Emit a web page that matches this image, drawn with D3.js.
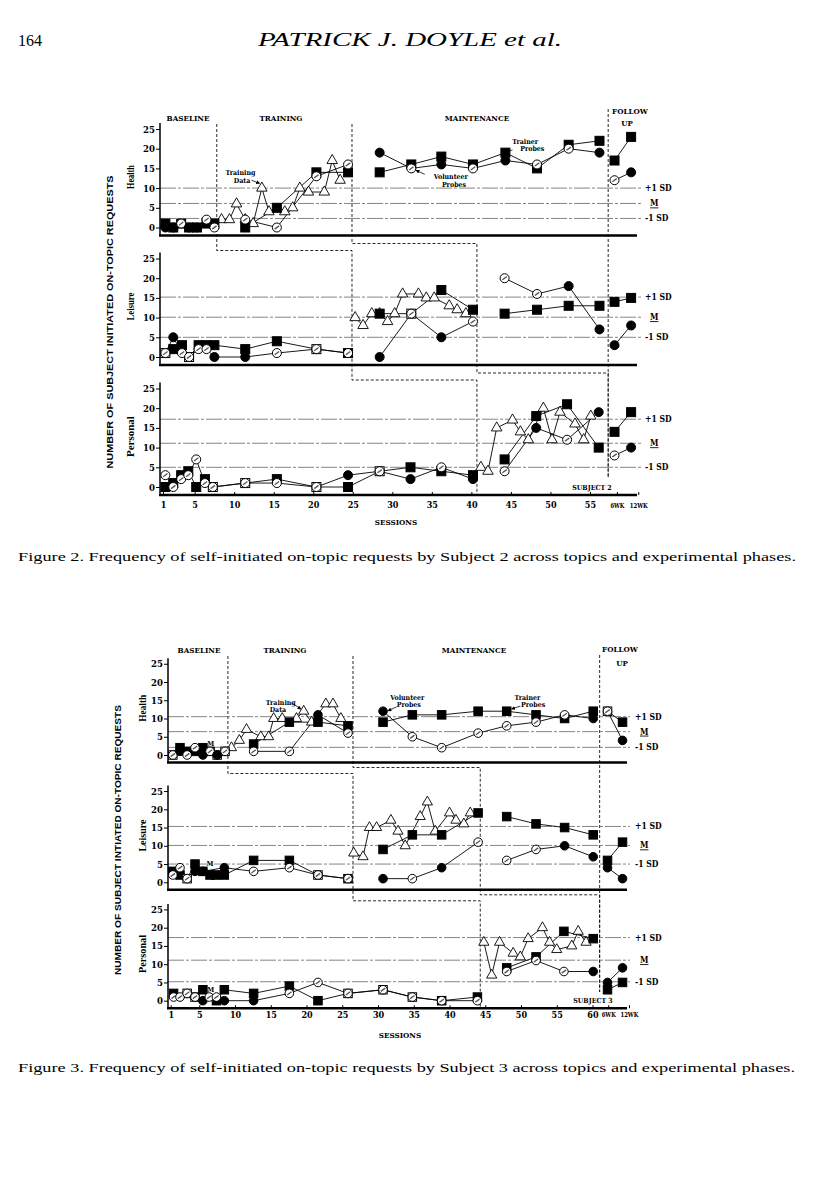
<!DOCTYPE html>
<html>
<head>
<meta charset="utf-8">
<script src="https://cdn.jsdelivr.net/npm/d3@7"></script>
<style>
body{margin:0;background:#fff;}
svg{display:block;}
</style>
</head>
<body>
<script>
// ---------- data ----------
var yTicks = [0,5,10,15,20,25];
var topics = ["Health","Leisure","Personal"];
var phaseNames = ["BASELINE","TRAINING","MAINTENANCE"];
var followNames = ["6WK","12WK"];
var sdNames = ["+1 SD","M","-1 SD"];
var sessionTicks2 = [1,5,10,15,20,25,30,35,40,45,50,55];
var sessionTicks3 = [1,5,10,15,20,25,30,35,40,45,50,55,60];

// phase changes (session units): baseline->training, training->maintenance, follow-up
var f2PhaseA = [7.8,24.9,40.7];
var f2PhaseB = [24.9,40.7,57.3];
var f2Follow = 57.3;
var f3PhaseA = [9.0,26.5,44.3];
var f3PhaseB = [26.5,44.3,61.0];
var f3Follow = 61.0;

// mean and +/-1 SD reference values [+1 SD, M, -1 SD]
var f2HealthSD = [10,6.1,2.3];
var f2LeisureSD = [15.2,10.1,5];
var f2PersonalSD = [17.2,11.1,5];
var f3HealthSD = [10.5,6.4,2.1];
var f3LeisureSD = [15.3,10.1,5];
var f3PersonalSD = [17.3,11.1,5.2];

// series: one array per phase segment, points [session, value, printed open symbol]
var f2HealthSquares = [
  [[1.3,1],[2.3,0],[3.3,1],[4.3,0],[5.3,0],[6.5,1],[7.5,1]],
  [[11.4,0],[15.4,5],[20.4,14],[24.4,14]],
  [[28.4,14],[32.4,16],[36.2,18],[40.2,16],[44.3,19],[48.3,15],[52.3,21],[56.2,22]],
  [["6WK",17],["12WK",23]]
];
var f2HealthCircles = [
  [[1.3,0],[2.3,0],[3.3,1,1],[4.3,0],[5.3,0],[6.5,2,1],[7.5,0,1]],
  [[11.4,2,1],[15.4,0,1],[20.4,13,1],[24.4,16,1]],
  [[28.4,19],[32.4,15,1],[36.2,16],[40.2,15,1],[44.3,17],[48.3,16,1],[52.3,20,1],[56.2,19]],
  [["6WK",12,1],["12WK",14]]
];
var f2HealthTriangles = [
  [[8.4,2],[9.4,2],[10.3,6],[11.4,2],[12.4,1],[13.5,10],[14.4,4],[16.4,4],[17.4,5],[18.3,10],[19.4,9],[21.4,9],[22.4,17],[23.4,12]]
];
var f2LeisureSquares = [
  [[1.3,1,1],[2.3,2],[3.4,3],[4.3,0,1],[5.5,3],[6.5,3],[7.5,3],[11.4,2],[15.4,4],[20.4,2,1],[24.4,1]],
  [[28.4,11],[32.4,11,1],[36.2,17],[40.2,12]],
  [[44.2,11],[48.3,12],[52.3,13],[56.2,13]],
  [["6WK",14],["12WK",15]]
];
var f2LeisureCircles = [
  [[1.3,1,1],[2.3,5],[3.4,1,1],[4.3,0,1],[5.5,2,1],[6.5,2,1],[7.5,0],[11.4,0],[15.4,1,1],[20.4,2,1],[24.4,1,1]],
  [[28.4,0],[32.4,11,1],[36.2,5],[40.2,9,1]],
  [[44.2,20,1],[48.3,16,1],[52.3,18],[56.2,7]],
  [["6WK",3],["12WK",8]]
];
var f2LeisureTriangles = [
  [[25.3,10],[26.3,8],[27.4,11],[28.4,11],[29.4,9],[30.3,11],[31.3,16],[33.3,16],[34.3,15],[35.3,15],[37.2,13],[38.2,12],[39.3,11]]
];
var f2PersonalSquares = [
  [[1.3,0],[2.3,1],[3.3,3],[4.2,4],[5.2,0],[6.3,2],[7.3,0,1],[11.4,1,1],[15.4,2],[20.4,0,1],[24.4,0],[28.4,4,1],[32.3,5],[36.2,4],[40.2,3]],
  [[44.2,7],[48.2,18],[52.1,21],[56.1,10]],
  [["6WK",14],["12WK",19]]
];
var f2PersonalCircles = [
  [[1.3,3,1],[2.3,0,1],[3.3,2,1],[4.2,3,1],[5.2,7,1],[6.3,1,1],[7.3,0,1],[11.4,1,1],[15.4,1,1],[20.4,0,1],[24.4,3],[28.4,4,1],[32.3,2],[36.2,5,1],[40.2,2]],
  [[44.2,4,1],[48.2,15],[52.1,12,1],[56.1,19]],
  [["6WK",8,1],["12WK",10]]
];
var f2PersonalTriangles = [
  [[41.2,5],[42.1,4],[43.2,15],[45.2,17],[46.2,14],[47.2,12],[49.1,20],[50.2,12],[51.2,19],[53.1,16],[54.2,12],[55.1,18]]
];

var f3HealthSquares = [
  [[1.3,0,1],[2.3,2],[3.3,1],[4.4,1],[5.5,2],[6.5,1],[7.5,0,1],[8.6,1,1]],
  [[12.6,3],[17.6,9],[21.6,9],[25.8,8]],
  [[30.7,9],[34.8,11],[38.9,11],[44.0,12],[48.0,12],[52.1,11],[56.1,10],[60.1,12]],
  [["6WK",12,1],["12WK",9]]
];
var f3HealthCircles = [
  [[1.3,0,1],[2.3,1],[3.3,0,1],[4.4,2,1],[5.5,0],[6.5,1,1],[7.5,0],[8.6,1,1]],
  [[12.6,1,1],[17.6,1,1],[21.6,11],[25.8,6,1]],
  [[30.7,12],[34.8,5,1],[38.9,2,1],[44.0,6,1],[48.0,8,1],[52.1,9,1],[56.1,11,1],[60.1,10]],
  [["6WK",12,1],["12WK",4]]
];
var f3HealthTriangles = [
  [[9.5,2],[10.6,4],[11.6,7],[13.6,5],[14.7,5],[15.4,10],[16.6,10],[18.6,10],[19.6,12],[20.7,9],[22.7,14],[23.7,14],[24.8,10]]
];
var f3LeisureSquares = [
  [[1.3,3],[2.3,2],[3.3,1,1],[4.4,5],[5.5,3],[6.5,2],[7.3,2],[8.5,2],[12.6,6],[17.6,6],[21.6,2,1],[25.8,1]],
  [[30.7,9],[34.8,13],[38.9,13],[44.0,19]],
  [[48.0,18],[52.1,16],[56.1,15],[60.1,13]],
  [["6WK",6],["12WK",11]]
];
var f3LeisureCircles = [
  [[1.3,2,1],[2.3,4,1],[3.3,1,1],[4.4,3],[5.5,3],[8.5,4],[12.6,3,1],[17.6,4,1],[21.6,2,1],[25.8,1,1]],
  [[30.7,1],[34.8,1,1],[38.9,4],[44.0,11,1]],
  [[48.0,6,1],[52.1,9,1],[56.1,10],[60.1,7]],
  [["6WK",4],["12WK",1]]
];
var f3LeisureTriangles = [
  [[26.6,8],[27.9,7],[28.8,15],[29.8,15],[31.8,17],[32.8,14],[33.8,10],[35.9,18],[36.9,22],[38.0,14],[40.0,19],[40.9,17],[42.0,16],[42.9,19]]
];
var f3PersonalSquares = [
  [[1.4,2],[3.3,2,1],[4.4,1,1],[5.5,3],[7.4,0],[8.5,3],[12.6,2],[17.6,4],[21.6,0],[25.8,2,1],[30.7,3,1],[34.8,1,1],[38.9,0],[43.9,1]],
  [[48.0,9],[52.1,12],[56.0,19],[60.1,17]],
  [["6WK",3],["12WK",5]]
];
var f3PersonalCircles = [
  [[1.4,1,1],[2.3,1,1],[3.3,2,1],[4.4,1,1],[5.5,0],[6.4,1,1],[7.4,1,1],[8.5,0],[12.6,0],[17.6,2,1],[21.6,5,1],[25.8,2,1],[30.7,3,1],[34.8,1,1],[38.9,0,1],[43.9,0,1]],
  [[48.0,8,1],[52.1,11,1],[56.0,8,1],[60.1,8]],
  [["6WK",5],["12WK",9]]
];
var f3PersonalTriangles = [
  [[44.8,16],[45.9,7],[47.0,16],[48.9,13],[49.9,12],[51.0,17],[53.0,20],[54.0,16],[55.0,14],[57.1,15],[58.0,19],[59.1,16]]
];

// ---------- drawing ----------
var svg = d3.select("body").append("svg")
.attr("width",816)
.attr("height",1195)
.style("font-family","'Liberation Serif',serif");

var chartFont = "'DejaVu Serif Condensed','DejaVu Serif',serif";

svg.append("text").attr("x",18).attr("y",46).attr("font-size",16).text("164");
svg.append("text").attr("x",258).attr("y",46).attr("font-size",19).attr("font-style","italic")
.attr("textLength",304).attr("lengthAdjust","spacingAndGlyphs").text("PATRICK J. DOYLE et al.");

function drawFigure(fig){
  var g = svg.append("g");
  var x = fig.x;
  var px = function(s){ return x(typeof s === "string" ? fig.followAt[s] : s); };
  var ys = fig.zero.map(function(z){
    return d3.scaleLinear().domain([0,25]).range([z, z - 25*fig.k]);
  });
  var bases = fig.zero.map(function(z){ return z + fig.base; });

  // phase titles
  fig.titles.forEach(function(t){
    g.append("text").attr("x",t[1]).attr("y",t[2]).attr("text-anchor","middle")
    .attr("font-family",chartFont).attr("font-weight","bold").attr("font-size",8).text(t[0]);
  });

  // phase change lines
  function stairs(xs,drop,top,bottom){
    var p = d3.path();
    p.moveTo(x(xs[0]),top);
    for(var i = 0;i < 3;i++){
      var yy = i < 2 ? bases[i] + drop : bottom;
      p.lineTo(x(xs[i]),yy);
      if(i < 2) p.lineTo(x(xs[i+1]),yy);
    }
    return p.toString();
  }
  var dash = {"fill":"none","stroke":"#111","stroke-width":0.9,"stroke-dasharray":"3,2"};
  [stairs(fig.phaseA,fig.dropA,fig.phaseTop,bases[2]),
   stairs(fig.phaseB,fig.dropB,fig.phaseTop,fig.followBottom),
   "M" + x(fig.follow) + "," + fig.followTop + "V" + fig.followBottom].forEach(function(d){
    var p = g.append("path").attr("d",d);
    for(var k in dash) p.attr(k,dash[k]);
  });

  fig.panels.forEach(function(p,i){
    var y = ys[i], base = bases[i];

    p.sd.forEach(function(v,j){
      g.append("line").attr("x1",fig.left).attr("x2",fig.sdEnd)
      .attr("y1",y(v)).attr("y2",y(v))
      .attr("stroke","#666").attr("stroke-width",0.8).attr("stroke-dasharray","16,2,3,2");
      var t = g.append("text").attr("x",fig.sdLabel).attr("y",y(v)+3)
      .attr("font-family",chartFont).attr("font-weight","bold").attr("font-size",8.5);
      if(j == 1) t.attr("x",fig.sdLabel + 5).attr("text-decoration","underline").text(sdNames[j]);
      else t.text(sdNames[j]);
    });

    g.append("line").attr("x1",fig.left).attr("x2",fig.left)
    .attr("y1",base).attr("y2",y(26.5)).attr("stroke","#000").attr("stroke-width",1.5);
    g.append("line").attr("x1",fig.left - 1).attr("x2",fig.right)
    .attr("y1",base).attr("y2",base).attr("stroke","#000").attr("stroke-width",2.5);

    g.append("g").attr("transform","translate(" + fig.left + ",0)")
    .call(d3.axisLeft(y).tickValues(yTicks).tickSize(4).tickPadding(1))
    .call(function(a){ a.select(".domain").remove(); })
    .attr("font-family",chartFont).attr("font-weight","bold").attr("font-size",9.5);

    g.append("text")
    .attr("transform","translate(" + fig.topicX + "," + y(12.8) + ") rotate(-90)")
    .attr("text-anchor","middle").attr("font-weight","bold").attr("font-size",10)
    .attr("textLength",fig.topicLen[i]).attr("lengthAdjust","spacingAndGlyphs")
    .text(topics[i]);

    var line = d3.line()
    .x(function(d){ return px(d[0]); })
    .y(function(d){ return y(d[1]); });

    [p.triangles,p.squares,p.circles].forEach(function(series){
      series.forEach(function(seg){
        g.append("path").attr("d",line(seg))
        .attr("fill","none").attr("stroke","#000").attr("stroke-width",0.9);
      });
    });

    var tri = d3.symbol(d3.symbolTriangle,fig.triSize);
    p.triangles.forEach(function(seg){
      g.selectAll(null).data(seg).enter().append("path")
      .attr("transform",function(d){ return "translate(" + px(d[0]) + "," + y(d[1]) + ")"; })
      .attr("d",tri).attr("fill","#fff").attr("stroke","#000").attr("stroke-width",0.9);
    });

    p.squares.forEach(function(seg){
      var s = g.selectAll(null).data(seg).enter().append("g")
      .attr("transform",function(d){ return "translate(" + px(d[0]) + "," + y(d[1]) + ")"; });
      s.append("rect").attr("x",-fig.sq/2).attr("y",-fig.sq/2)
      .attr("width",fig.sq).attr("height",fig.sq)
      .attr("fill",function(d){ return d[2] ? "#fff" : "#000"; })
      .attr("stroke","#000").attr("stroke-width",1);
      s.filter(function(d){ return d[2]; }).append("circle").attr("r",1.4).attr("fill","#555");
    });

    p.circles.forEach(function(seg){
      var c = g.selectAll(null).data(seg).enter().append("g")
      .attr("transform",function(d){ return "translate(" + px(d[0]) + "," + y(d[1]) + ")"; });
      c.append("circle").attr("r",fig.r)
      .attr("fill",function(d){ return d[2] ? "#fff" : "#000"; })
      .attr("stroke","#000").attr("stroke-width",1);
      c.filter(function(d){ return d[2]; }).append("path").attr("d","M-2.2,1.6L2.2,-1.6")
      .attr("stroke","#555").attr("stroke-width",1.3);
    });

    (p.notes || []).forEach(function(n){
      n.text.forEach(function(s,j){
        g.append("text").attr("x",px(n.at[j][0])).attr("y",y(n.at[j][1]) + 3)
        .attr("text-anchor","middle").attr("font-family",chartFont).attr("font-weight","bold")
        .attr("font-size",7).text(s);
      });
      if(n.arrow){
        g.append("line").attr("x1",px(n.arrow[0][0])).attr("y1",y(n.arrow[0][1]))
        .attr("x2",px(n.arrow[1][0])).attr("y2",y(n.arrow[1][1]))
        .attr("stroke","#000").attr("stroke-width",0.8).attr("marker-end","url(#arr)");
      }
    });
  });

  // session axis under the last panel
  var tickVals = fig.sessionTicks.concat(followNames.map(function(f){ return fig.followTick[f]; }));
  var xa = g.append("g").attr("transform","translate(0," + bases[2] + ")")
  .call(d3.axisBottom(x).tickValues(tickVals).tickSize(-3).tickPadding(fig.tickPad)
    .tickFormat(function(d){
      var f = followNames.filter(function(n){ return fig.followTick[n] === d; });
      return f.length ? f[0] : d;
    }))
  .call(function(a){ a.select(".domain").remove(); })
  .attr("font-family",chartFont).attr("font-weight","bold").attr("font-size",9);
  xa.selectAll(".tick text").filter(function(d){ return d > fig.sessionTicks[fig.sessionTicks.length-1]; })
  .attr("font-size",8)
  .attr("textLength",function(d){ return d === fig.followTick["6WK"] ? fig.followLen[0] : fig.followLen[1]; })
  .attr("lengthAdjust","spacingAndGlyphs");

  g.append("text").attr("x",fig.sessions[0]).attr("y",fig.sessions[1]).attr("text-anchor","middle")
  .attr("font-family",chartFont).attr("font-weight","bold").attr("font-size",8).text("SESSIONS");

  g.append("text").attr("x",fig.subject[0]).attr("y",fig.subject[1]).attr("text-anchor","middle")
  .attr("font-family",chartFont).attr("font-weight","bold").attr("font-size",7).text(fig.subjectText);

  g.append("text")
  .attr("transform","translate(" + fig.bigLabel[0] + "," + fig.bigLabel[1] + ") rotate(-90)")
  .attr("text-anchor","middle").attr("font-family","'Liberation Sans',sans-serif")
  .attr("font-weight","bold").attr("font-size",9)
  .attr("textLength",fig.bigLabel[2]).attr("lengthAdjust","spacingAndGlyphs")
  .text(fig.bigText);

  g.append("text").attr("x",18).attr("y",fig.captionY).attr("font-size",13.5)
  .attr("textLength",fig.captionLen).attr("lengthAdjust","spacingAndGlyphs")
  .text(fig.caption);
}

svg.append("defs").append("marker").attr("id","arr")
.attr("viewBox","0 0 6 6").attr("refX",5).attr("refY",3)
.attr("markerWidth",5).attr("markerHeight",5).attr("orient","auto")
.append("path").attr("d","M0,0L6,3L0,6Z").attr("fill","#000");

drawFigure({
  x: d3.scaleLinear().domain([1,55]).range([163,590]),
  zero: [227.5,357,487], k: 3.94, base: 8,
  left: 160, right: 637, sdEnd: 641, sdLabel: 645,
  followAt: {"6WK":58.1,"12WK":60.2},
  followTick: {"6WK":58.4,"12WK":61.1},
  followLen: [14,18],
  sessionTicks: sessionTicks2, tickPad: 7,
  phaseA: f2PhaseA, phaseB: f2PhaseB, follow: f2Follow,
  dropA: 15, dropB: 8, phaseTop: 124, followTop: 109, followBottom: 478,
  titles: [[phaseNames[0],188,121],[phaseNames[1],281,121],[phaseNames[2],477,121],["FOLLOW",630,114],["UP",627,126]],
  topicX: 134, topicLen: [24,28,41],
  sq: 9, r: 4.5, triSize: 48,
  sessions: [396,525], subject: [592,490], subjectText: "SUBJECT 2",
  bigLabel: [113,322,293], bigText: "NUMBER OF SUBJECT INITIATED ON-TOPIC REQUESTS",
  captionY: 561, captionLen: 778,
  caption: "Figure 2.   Frequency of self-initiated on-topic requests by Subject 2 across topics and experimental phases.",
  panels: [
    {sd: f2HealthSD, squares: f2HealthSquares, circles: f2HealthCircles, triangles: f2HealthTriangles,
     notes: [
       {text:["Training","Data"], at:[[10.8,14.2],[11.0,12.1]], arrow:[[12.2,12.0],[13.2,11.2]]},
       {text:["Trainer","Probes"], at:[[46.8,22],[47.7,20.1]], arrow:[[45.2,19.7],[44.3,19.0]]},
       {text:["Volunteer","Probes"], at:[[37.4,13.1],[37.8,11.0]], arrow:[[34.1,13.5],[33.0,14.5]]}
     ]},
    {sd: f2LeisureSD, squares: f2LeisureSquares, circles: f2LeisureCircles, triangles: f2LeisureTriangles},
    {sd: f2PersonalSD, squares: f2PersonalSquares, circles: f2PersonalCircles, triangles: f2PersonalTriangles}
  ]
});

drawFigure({
  x: d3.scaleLinear().domain([1,60]).range([170.7,592.5]),
  zero: [755,882.3,1000.7], k: 3.65, base: 7.5,
  left: 168, right: 627, sdEnd: 630, sdLabel: 635,
  followAt: {"6WK":62.1,"12WK":64.2},
  followTick: {"6WK":62.2,"12WK":65.1},
  followLen: [14,18],
  sessionTicks: sessionTicks3, tickPad: 3,
  phaseA: f3PhaseA, phaseB: f3PhaseB, follow: f3Follow,
  dropA: 11, dropB: 5, phaseTop: 656, followTop: 655, followBottom: 992,
  titles: [[phaseNames[0],199,653],[phaseNames[1],285,653],[phaseNames[2],474,653],["FOLLOW",620,652],["UP",622,666]],
  topicX: 146, topicLen: [27,32,38],
  sq: 8.5, r: 4.3, triSize: 45,
  sessions: [400,1038], subject: [593,1003], subjectText: "SUBJECT 3",
  bigLabel: [121,840,270], bigText: "NUMBER OF SUBJECT INTIATED ON-TOPIC REQUESTS",
  captionY: 1072, captionLen: 777,
  caption: "Figure 3.   Frequency of self-initiated on-topic requests by Subject 3 across topics and experimental phases.",
  panels: [
    {sd: f3HealthSD, squares: f3HealthSquares, circles: f3HealthCircles, triangles: f3HealthTriangles,
     notes: [
       {text:["Training","Data"], at:[[16.4,14.6],[16.0,12.5]], arrow:[[18.0,14.2],[19.2,12.6]]},
       {text:["Volunteer","Probes"], at:[[34.1,15.9],[34.3,14.0]], arrow:[[32.6,13.2],[31.4,12.1]]},
       {text:["Trainer","Probes"], at:[[50.9,15.9],[51.7,14.0]], arrow:[[49.9,13.4],[48.7,12.6]]},
       {text:["M"], at:[[6.6,3.3]]}
     ]},
    {sd: f3LeisureSD, squares: f3LeisureSquares, circles: f3LeisureCircles, triangles: f3LeisureTriangles,
     notes: [{text:["M"], at:[[6.5,5.2]]}]},
    {sd: f3PersonalSD, squares: f3PersonalSquares, circles: f3PersonalCircles, triangles: f3PersonalTriangles,
     notes: [{text:["M"], at:[[6.6,3.2]]}]}
  ]
});
</script>
</body>
</html>
